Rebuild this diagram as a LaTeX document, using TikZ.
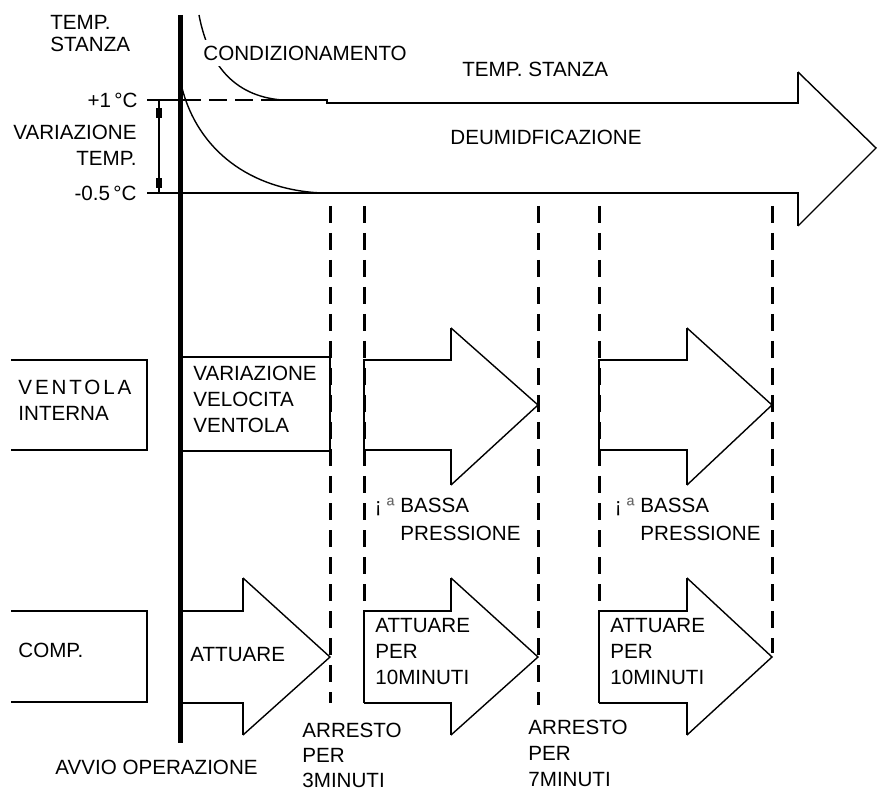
\documentclass[tikz,border=0pt]{standalone}
\usepackage{fontspec}
\setmainfont{Liberation Sans}
\usetikzlibrary{calc}
\definecolor{inkline}{HTML}{000000}
\definecolor{inksub}{HTML}{666666}
\tikzset{
  axisline/.style={draw=inkline, line width=2.5pt},
  boxline/.style={draw=inkline, line width=1.2pt},
  headline/.style={draw=inkline, line width=0.7pt},
  stopline/.style={draw=inkline, line width=1.5pt, dash pattern=on 8.5pt off 5pt},
  curveline/.style={draw=inkline, line width=0.7pt},
  lbl/.style={font=\fontsize{10.3}{13}\selectfont, inner sep=0pt, align=left, anchor=west},
  lblr/.style={lbl, align=right, anchor=east}
}
% #1 left, #2 body end, #3 tip, #4/#5 body top/bottom, #6/#7 head top/bottom
\newcommand{\drawBlockArrow}[7]{%
  \draw[boxline] (#1,#5) -- (#1,#4) -- (#2,#4) -- (#2,#6);
  \draw[headline] (#2,#6) -- (#3,{(#4+#5)/2}) -- (#2,#7);
  \draw[boxline] (#2,#7) -- (#2,#5) -- (#1,#5);
}

\begin{document}
\begin{tikzpicture}[x=0.5pt,y=-0.5pt]
  \useasboundingbox (0,0) rectangle (877,790);

  % stop lines
  \foreach \sx/\sy in {330/703, 364/611, 538/705, 599/611, 772/653}
    \draw[stopline] (\sx,206) -- (\sx,\sy);

  % room temperature band
  \draw[curveline] (199,15) .. controls (208,62) and (232,96) .. (282,100);
  \draw[curveline] (182,88) .. controls (198,150) and (250,190) .. (322,193);
  \draw[boxline] (147,100) -- (183,100);
  \draw[boxline, dash pattern=on 9pt off 4pt] (183,100) -- (270,100);
  \draw[boxline] (270,100) -- (327,100) -- (327,103) -- (798,103) -- (798,72);
  \draw[headline] (798,72) -- (876,148) -- (798,226);
  \draw[boxline] (798,226) -- (798,193) -- (147,193);
  \draw[boxline] (159,100) -- (159,193);
  \fill[inkline] (156,108) rectangle (162,118);
  \fill[inkline] (156,178) rectangle (162,188);

  \node[lbl, font=\fontsize{10.3}{11}\selectfont] (roomtemp) at (50,34) {TEMP.\\STANZA};
  \node[lblr] (plusone) at (138,100) {+1\,°C};
  \node[lblr] (minushalf) at (137,193) {-0.5\,°C};
  \node[lblr] (tempvar) at (137,145) {VARIAZIONE\\TEMP.};
  \node[lbl, fill=white, inner sep=3pt] (cond) at (197,53) {CONDIZIONAMENTO};
  \node[lbl] (roomtemp2) at (462,69) {TEMP. STANZA};
  \node[lbl] (dehum) at (450,137) {DEUMIDFICAZIONE};

  % indoor fan
  \draw[boxline] (11,360) -- (147,360) -- (147,450) -- (11,450);
  \draw[boxline] (180,357) -- (330,357) -- (330,451) -- (180,451);
  \drawBlockArrow{364}{451}{538}{360}{450}{328}{485}
  \drawBlockArrow{599}{687}{772}{360}{450}{328}{485}
  \node[lbl] (fanlbl) at (18,400) {\addfontfeatures{LetterSpace=14}VENTOLA\\INTERNA};
  \node[lbl] (fanvar) at (193,399) {VARIAZIONE\\VELOCITA\\VENTOLA};
  \node[lbl, font=\fontsize{10.3}{14}\selectfont] (lowp1) at (400,519)
    {\llap{¡\hspace{2.5pt}{\color{inksub}ª}\hspace{3pt}}BASSA\\PRESSIONE};
  \node[lbl, font=\fontsize{10.3}{14}\selectfont] (lowp2) at (640,519)
    {\llap{¡\hspace{2.5pt}{\color{inksub}ª}\hspace{3pt}}BASSA\\PRESSIONE};

  % compressor
  \draw[boxline] (11,611) -- (147,611) -- (147,702) -- (11,702);
  \drawBlockArrow{180}{243}{330}{611}{703}{578}{735}
  \drawBlockArrow{364}{451}{538}{611}{703}{578}{735}
  \drawBlockArrow{599}{687}{772}{611}{703}{578}{735}
  \node[lbl] (complbl) at (18,650) {COMP.};
  \node[lbl] (run1) at (190,655) {ATTUARE};
  \node[lbl] (run2) at (375,652) {ATTUARE\\PER\\10MINUTI};
  \node[lbl] (run3) at (610,652) {ATTUARE\\PER\\10MINUTI};
  \node[lbl, font=\fontsize{10.3}{12.5}\selectfont] (stop1) at (302,755) {ARRESTO\\PER\\3MINUTI};
  \node[lbl] (stop2) at (528,753) {ARRESTO\\PER\\7MINUTI};
  \node[lbl] (start) at (55,767) {AVVIO OPERAZIONE};

  % operation start axis
  \draw[axisline] (180,15) -- (180,743);
\end{tikzpicture}
\end{document}
